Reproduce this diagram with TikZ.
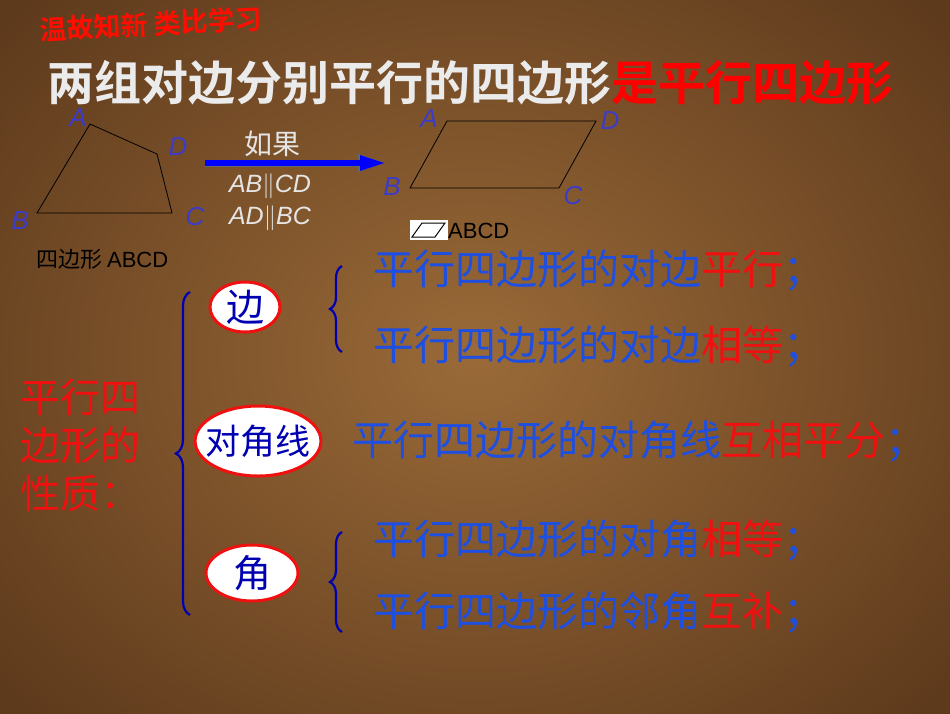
\documentclass[tikz,border=0pt]{standalone}
\usepackage{fontspec}
\setmainfont{Liberation Sans}
\newfontfamily\cjk{Noto Sans CJK SC}
\newfontfamily\cjkb{Noto Sans CJK SC Bold}
\usetikzlibrary{shapes.geometric,decorations.pathreplacing,arrows.meta,shadows}
\definecolor{bgc}{HTML}{9A6A38}
\definecolor{bge}{HTML}{5E3A1C}
\definecolor{pblue}{HTML}{1E4FE0}
\definecolor{lblue}{HTML}{3C3CC8}
\definecolor{pred}{HTML}{F01010}
\tikzset{
 lbl/.style={font=\itshape\fontsize{26}{26}\selectfont,text=lblue},
 prop/.style={anchor=west,font=\cjk\fontsize{41}{44}\selectfont,text=pblue,inner sep=0},
 oval/.style={ellipse,draw=pred,line width=3pt,fill=white,font=\cjk\fontsize{38}{40}\selectfont,text=blue!70!black,inner sep=0},
 brc/.style={decorate,decoration={brace,amplitude=12pt},draw=blue!70!black,line width=2.2pt}
}
\begin{document}
\begin{tikzpicture}[x=1pt,y=-1pt]
\useasboundingbox (0,0) rectangle (950,713);
\shade[inner color=bgc,outer color=bge] (-150,-150) rectangle (1100,863);
\node[font=\cjkb\fontsize{27}{28}\selectfont,text=red!90!orange,anchor=west,inner sep=0,rotate=3] (t1) at (40,30) {温故知新\ 类比学习};
\node[font=\cjkb\fontsize{47}{48}\selectfont,anchor=west,inner sep=0,text height=36pt,text depth=2pt,text=white!92!black] (t2) at (47,83) {两组对边分别平行的四边形\textcolor{red}{是平行四边形}};
% quadrilateral
\coordinate (qa) at (90,124); \coordinate (qd) at (157,154); \coordinate (qc) at (172,213); \coordinate (qb) at (37,213);
\draw[black,line width=0.8pt] (qa)--(qd)--(qc)--(qb)--cycle;
\node[lbl,inner sep=0pt] (la) at (78,118) {A}; \node[lbl] (ld) at (178,147) {D};
\node[lbl] (lc) at (195,217) {C}; \node[lbl] (lb) at (20,221) {B};
\node[font=\cjk\fontsize{22}{22}\selectfont,anchor=west,inner sep=0] (q) at (36,259) {四边形 \fontspec{Liberation Sans}ABCD};
% arrow
\coordinate (as) at (205,163); \coordinate (ae) at (386,163);
\draw[-{Triangle[length=28pt,width=16pt]},line width=7pt,draw=black!60] (as)--(ae);
\draw[-{Triangle[length=26pt,width=14pt]},line width=5.5pt,draw=blue] (as)--(ae);
\node[font=\cjk\itshape\fontsize{28}{28}\selectfont,text=white!90!black] (rg) at (272,144) {如果};
\node[font=\itshape\fontsize{25}{26}\selectfont,text=white!90!black] (c1) at (270,186) {AB$\|$CD};
\node[font=\itshape\fontsize{25}{26}\selectfont,text=white!90!black] (c2) at (270,218) {AD$\|$BC};
% parallelogram
\coordinate (pa) at (447,121); \coordinate (pd) at (596,121); \coordinate (pc) at (559,188); \coordinate (pb) at (410,188);
\draw[black,line width=0.8pt] (pa)--(pd)--(pc)--(pb)--cycle;
\node[lbl,inner sep=1pt] (pla) at (429,119) {A}; \node[lbl] (pld) at (610,121) {D};
\node[lbl] (plc) at (573,196) {C}; \node[lbl] (plb) at (392,187) {B};
\fill[white] (410,220) rectangle (448,240);
\draw[black,line width=1pt] (412,237)--(422,223)--(445,223)--(435,237)--cycle;
\node[font=\fontsize{22}{22}\selectfont,anchor=west,inner sep=0] (pg) at (448,231) {ABCD};
% left red
\node[font=\cjk\fontsize{40}{48}\selectfont,text=pred,align=left,anchor=west,inner sep=0] (lr) at (20,445) {平行四\\边形的\\性质：};
% ovals
\node[oval,minimum width=70pt,minimum height=50pt] (o1) at (245,307) {边};
\node[oval,minimum width=124pt,minimum height=70pt,inner xsep=-8pt,font=\cjk\fontsize{35}{38}\selectfont] (o2) at (258,441) {对角线};
\node[oval,minimum width=92pt,minimum height=56pt] (o3) at (252,573) {角};
% braces
\coordinate (b1t) at (190,292); \coordinate (b1b) at (190,615);
\draw[brc,decoration={amplitude=14pt}] (b1b)--(b1t);
\coordinate (b2t) at (342,266); \coordinate (b2b) at (342,352);
\draw[brc] (b2b)--(b2t);
\coordinate (b3t) at (342,532); \coordinate (b3b) at (342,632);
\draw[brc] (b3b)--(b3t);
% properties
\node[prop] (p1) at (373,270) {平行四边形的对边\textcolor{pred}{平行}；};
\node[prop] (p2) at (373,346) {平行四边形的对边\textcolor{pred}{相等}；};
\node[prop] (p3) at (352,441) {平行四边形的对角线\textcolor{pred}{互相平分}；};
\node[prop] (p4) at (373,540) {平行四边形的对角\textcolor{pred}{相等}；};
\node[prop] (p5) at (373,612) {平行四边形的邻角\textcolor{pred}{互补}；};
\end{tikzpicture}
\end{document}
